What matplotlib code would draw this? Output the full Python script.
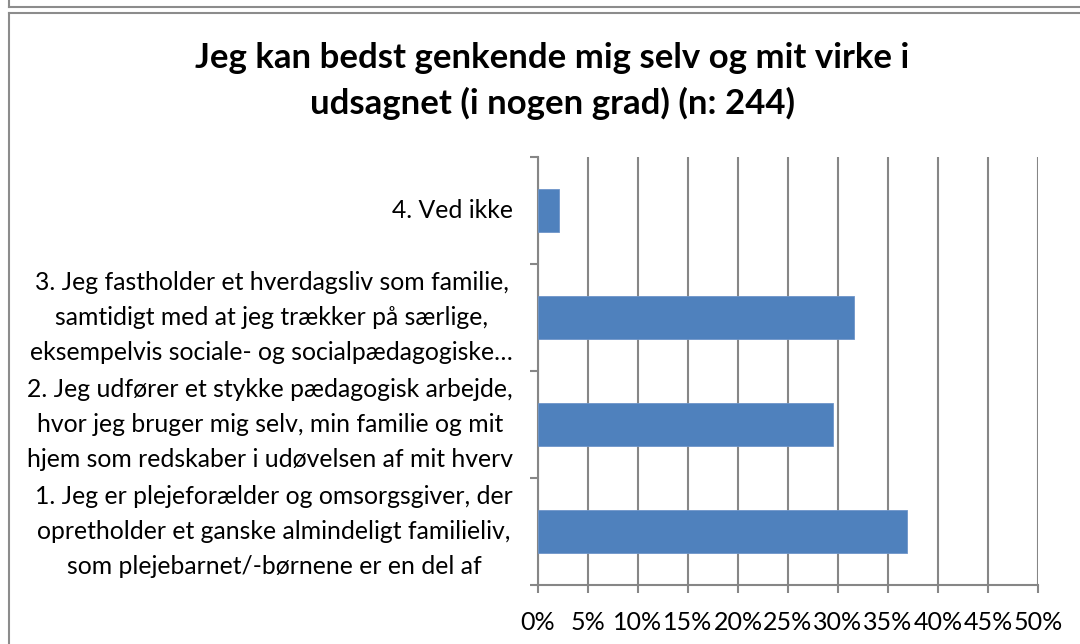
import matplotlib
matplotlib.use("Agg")
import matplotlib.pyplot as plt
from matplotlib.lines import Line2D
from matplotlib.ticker import FuncFormatter, MultipleLocator

plt.rcParams['font.family'] = ['Lato', 'DejaVu Sans']

categories = [
    "1. Jeg er plejeforælder og omsorgsgiver, der\nopretholder et ganske almindeligt familieliv,\nsom plejebarnet/-børnene er en del af",
    "2. Jeg udfører et stykke pædagogisk arbejde,\nhvor jeg bruger mig selv, min familie og mit\nhjem som redskaber i udøvelsen af mit hverv",
    "3. Jeg fastholder et hverdagsliv som familie,\nsamtidigt med at jeg trækker på særlige,\neksempelvis sociale- og socialpædagogiske…",
    "4. Ved ikke",
]
values = [0.369, 0.295, 0.316, 0.0205]
title = "Jeg kan bedst genkende mig selv og mit virke i\nudsagnet (i nogen grad) (n: 244)"

W, H = 1080, 644
fig = plt.figure(figsize=(W / 100, H / 100), dpi=100)
fig.patch.set_facecolor('white')

x0, x1 = 538, 1038
y0, y1 = 157, 585
ax = fig.add_axes([x0 / W, 1 - y1 / H, (x1 - x0) / W, (y1 - y0) / H])

bar_color = '#4F81BD'
grid_color = '#868686'
ypos = list(range(len(categories)))
ax.barh(ypos, values, height=0.4, color=bar_color, edgecolor='#6E95C9', linewidth=0.6, zorder=3)
ax.set_xlim(0, 0.5)
ax.set_ylim(-0.5, len(categories) - 0.5)

ax.xaxis.set_major_locator(MultipleLocator(0.05))
ax.xaxis.set_major_formatter(FuncFormatter(lambda v, p: f"{round(v * 100)}%"))
ax.grid(axis='x', color=grid_color, linewidth=1.5, zorder=0)
ax.set_axisbelow(True)

ax.set_yticks([i - 0.5 for i in range(len(categories) + 1)])
ax.set_yticklabels([])
ax.set_yticks(ypos, minor=True)
ax.set_yticklabels(categories, minor=True, fontsize=17.8, ha='right', va='center',
                   multialignment='center', linespacing=1.62)
ax.tick_params(axis='y', which='minor', length=0, pad=25 * 0.72)
ax.tick_params(axis='y', which='major', length=8 * 0.72, width=1.5, color=grid_color, direction='out')
ax.tick_params(axis='x', which='major', length=8 * 0.72, width=1.5, color=grid_color,
               labelsize=18, pad=13)

for s in ['top', 'right']:
    ax.spines[s].set_visible(False)
for s in ['left', 'bottom']:
    ax.spines[s].set_color(grid_color)
    ax.spines[s].set_linewidth(1.5)

fig.text(552 / W, 1 - 81 / H, title, ha='center', va='center', fontsize=25,
         fontweight='bold', linespacing=1.45)

# frame lines
border = '#8C8C8C'
fig.add_artist(Line2D([9 / W, 9 / W], [1, 1 - 7 / H], color=border, lw=1.5, transform=fig.transFigure))
fig.add_artist(Line2D([9 / W, 1], [1 - 7 / H, 1 - 7 / H], color=border, lw=1.5, transform=fig.transFigure))
fig.add_artist(Line2D([9 / W, 1], [1 - 12.5 / H, 1 - 12.5 / H], color=border, lw=1.5, transform=fig.transFigure))
fig.add_artist(Line2D([9 / W, 9 / W], [1 - 12.5 / H, 0], color=border, lw=1.5, transform=fig.transFigure))

fig.savefig('out.png', dpi=100)
